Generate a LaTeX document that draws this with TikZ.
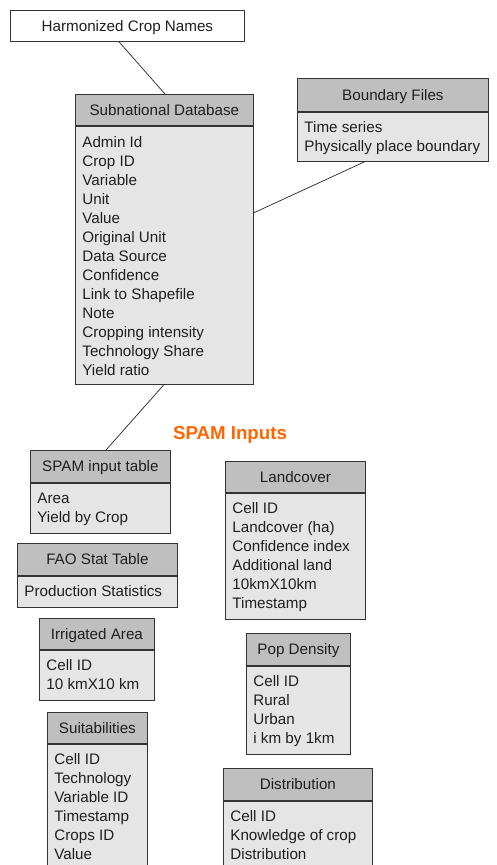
\documentclass[tikz,border=0pt]{standalone}
\usepackage{fontspec}
\setmainfont{Liberation Sans}
\begin{document}
\begin{tikzpicture}[x=1pt,y=-1pt,
  every node/.style={font=\fontsize{15.2}{19}\selectfont, text=black!88},
  frame/.style={draw=black!80, line width=0.8pt},
  hdr/.style={frame, fill=black!25, inner sep=0pt, text height=11pt, text depth=0pt},
  bdy/.style={frame, fill=black!10, inner sep=0pt},
  plainbox/.style={frame, fill=white, inner sep=0pt, text height=11pt, text depth=0pt},
  link/.style={draw=black!85, line width=0.7pt},
  title/.style={font=\fontsize{18.7}{22}\selectfont\bfseries, text=orange!80!red!100}]
\clip (0,0) rectangle (497,865);
\fill[white] (0,0) rectangle (497,865);

% table: name, x, y, width, header height, body height, first baseline, title, rows
\newcommand\dbtable[9]{%
  \node[hdr, minimum width=#4pt, minimum height=#5pt, anchor=north west] (#1-h) at (#2,#3) {#8};
  \node[bdy, anchor=north west] (#1-b) at (#1-h.south west)
    {\parbox[c][#6pt][t]{#4pt}{\raggedright\leftskip=7pt\rule{0pt}{#7pt}#9}};
}

\node[plainbox, minimum width=234pt, minimum height=31pt, anchor=north west] (hcn) at (10,10) {Harmonized Crop Names};

\dbtable{sub}{75}{94}{178}{31}{258}{21}{Subnational Database}
  {Admin Id\\Crop ID\\Variable\\Unit\\Value\\Original Unit\\Data Source\\Confidence\\Link to Shapefile\\Note\\Cropping intensity\\Technology Share\\Yield ratio}
\dbtable{bnd}{297}{78}{191}{33}{49}{20}{Boundary Files}
  {Time series\\Physically place boundary}

\node[title] (spamtitle) at (230,435) {SPAM Inputs};

\dbtable{spam}{30}{450}{140}{32}{50}{20}{SPAM input table}
  {Area\\Yield by Crop}
\dbtable{fao}{17}{543}{160}{32}{31}{20}{FAO Stat Table}
  {Production Statistics}
\dbtable{irr}{39}{618}{115}{31}{50}{20.5}{Irrigated Area}
  {Cell ID\\10 kmX10 km}
\dbtable{suit}{47}{712}{100}{31}{150}{20.5}{Suitabilities}
  {Cell ID\\Technology\\Variable ID\\Timestamp\\Crops ID\\Value}
\dbtable{land}{225}{461}{140}{31}{126}{20.5}{Landcover}
  {Cell ID\\Landcover (ha)\\Confidence index\\Additional land\\10kmX10km\\Timestamp}
\dbtable{pop}{246}{633}{104}{32}{88}{20.5}{Pop Density}
  {Cell ID\\Rural\\Urban\\i km by 1km}
\dbtable{dist}{223}{768}{149}{32}{110}{20.5}{Distribution}
  {Cell ID\\Knowledge of crop\\Distribution}

% connectors
\draw[link] ([xshift=109pt]hcn.south west) -- ([xshift=90pt]sub-h.north west);
\draw[link] ([xshift=68pt]bnd-b.south west) -- ([yshift=-87pt]sub-b.north east);
\draw[link] ([xshift=89pt]sub-b.south west) -- ([xshift=76pt]spam-h.north west);
\end{tikzpicture}
\end{document}
